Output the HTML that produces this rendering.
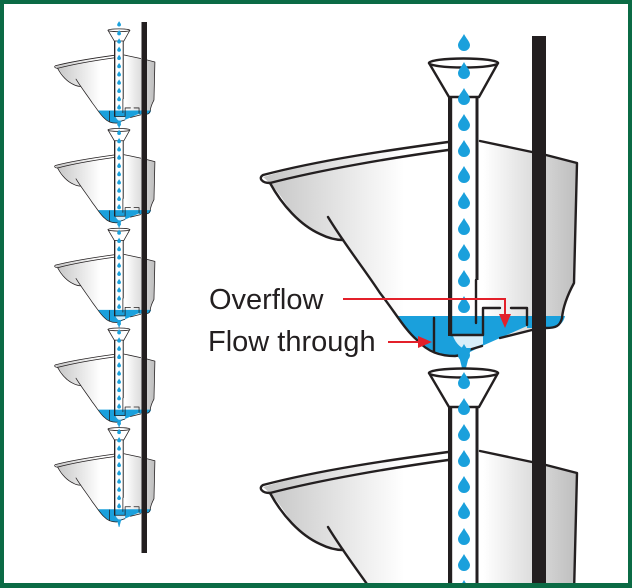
<!DOCTYPE html>
<html><head><meta charset="utf-8"><style>
html,body{margin:0;padding:0;background:#fff;width:632px;height:588px;overflow:hidden}
svg{display:block}
</style></head><body>
<svg width="632" height="588" viewBox="0 0 632 588" xmlns="http://www.w3.org/2000/svg">
<defs>
<linearGradient id="g" x1="262" y1="0" x2="578" y2="0" gradientUnits="userSpaceOnUse">
<stop offset="0" stop-color="#c4c4c4"/><stop offset="0.45" stop-color="#ffffff"/><stop offset="0.7" stop-color="#ffffff"/><stop offset="1" stop-color="#bdbdbd"/>
</linearGradient>
<path id="d" d="M0,-8 C2,-4 6,0 6,3 A6,6 0 0 1 -6,3 C-6,0 -2,-4 0,-8Z" fill="#1aa0dc"/>
<g id="u">
 <path d="M263,177 C320,160 390,150 448,142 L480,140 L532,152 L577,163 L573,285 C565,300 562,310 562,320 C560,327 555,328 546,328 L500,338 L482,346 L455,356 C440,356 428,352 417,340 C405,325 395,310 380,293 C368,275 358,262 343,240 C320,238 300,225 290,210 C282,198 276,188 263,177Z" fill="url(#g)"/>
 <path d="M398,316 L527,316 L527,326 L500,338 L482,346 L462,356 C445,356 430,352 417,340 C410,332 403,324 398,316Z" fill="#1aa0dc"/>
 <path d="M453,336 L483,336 L483,344 L470,350 C462,350 456,344 453,336Z" fill="#d8eef9"/>
 <path d="M527,316 L565,316 C563,324 558,328 546,328 L527,328Z" fill="#1aa0dc"/>
 <g fill="none" stroke="#231f20" stroke-width="2.4" stroke-linejoin="round" stroke-linecap="round">
  <path d="M448,142 C390,150 320,160 263,175 C258,178 262,183 270,183 C320,170 390,158 448,150"/>
  <path d="M270,183 C282,205 300,225 320,234 C330,239 338,240 343,240"/>
  <path d="M328,217 C345,245 365,270 380,293 C395,312 405,330 417,340 C428,352 440,356 455,356 L462,355"/>
  <path d="M480,141 L532,152 M546,155 L577,163 L574,283 C567,296 563,307 562,318 C560,326 556,328 546,328"/>
  <path d="M482,346 L462,352 M500,338 L532,330"/>
  <path d="M434,318 L434,352"/>
  <path d="M476,280 L476,323 M451,97 L451,335 L483,335 L483,308 L500,308 M511,308 L527,308 L527,325"/>
 </g>
 <path d="M477,97 L477,280" stroke="#231f20" stroke-width="3" fill="none"/>
 <path d="M449.5,97 L449.5,336" stroke="#231f20" stroke-width="3" fill="none"/>
 <path d="M429,63 L449,97 L479,97 L498,63Z" fill="#fff" stroke="#231f20" stroke-width="2.4" stroke-linejoin="round"/>
 <ellipse cx="463.5" cy="63" rx="34.5" ry="4.5" fill="#fff" stroke="#231f20" stroke-width="2.4"/>
 <path d="M457,348 L471,348 L465,372 L463,372Z" fill="#1aa0dc"/>
 <use href="#d" x="464" y="42"/><use href="#d" x="464" y="70"/><use href="#d" x="464" y="96"/>
 <use href="#d" x="464" y="122"/><use href="#d" x="464" y="148"/><use href="#d" x="464" y="174"/>
 <use href="#d" x="464" y="200"/><use href="#d" x="464" y="226"/><use href="#d" x="464" y="252"/>
 <use href="#d" x="464" y="278"/><use href="#d" x="464" y="304"/>
</g>
<clipPath id="c"><rect x="4" y="4" width="624" height="579"/></clipPath>
</defs>
<rect width="632" height="588" fill="#0b6b45"/>
<rect x="4" y="4" width="624" height="579" fill="#fff"/>

<g transform="translate(-28,10.3) scale(0.317)"><use href="#u"/></g>
<g transform="translate(-28,110) scale(0.317)"><use href="#u"/></g>
<g transform="translate(-28,209.7) scale(0.317)"><use href="#u"/></g>
<g transform="translate(-28,309.4) scale(0.317)"><use href="#u"/></g>
<g transform="translate(-28,409.1) scale(0.317)"><use href="#u"/></g>
<rect x="141.5" y="22" width="5.5" height="531" fill="#231f20"/>

<g clip-path="url(#c)">
<use href="#u"/>
<g transform="translate(0,310)"><use href="#u"/></g>
<rect x="532" y="36" width="14" height="547" fill="#231f20"/>
</g>

<g font-family="Liberation Sans, sans-serif" font-size="29" fill="#231f20">
<text x="209" y="309">Overflow</text>
<text x="208" y="351">Flow through</text>
</g>
<g stroke="#e3202a" stroke-width="2" fill="none">
<path d="M343,299 L505,299 L505,318"/>
<path d="M388,342 L422,342"/>
</g>
<path d="M499,314 L511,314 L505,328Z" fill="#e3202a"/>
<path d="M418,336 L432,342 L418,348Z" fill="#e3202a"/>
</svg>
</body></html>
